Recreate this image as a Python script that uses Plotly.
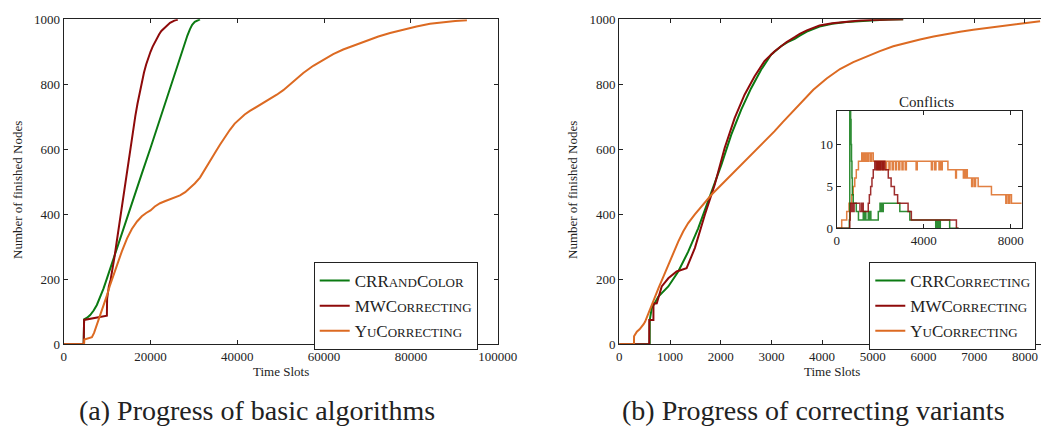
import plotly.graph_objects as go

# ---------------- data: (a) basic algorithms ----------------
a_crr_x = [0, 4600, 4700, 5400, 6100, 6900, 7640, 8400, 9190, 9950, 10730, 11500, 12270, 14000, 16000, 18000, 20000,
           22000, 24000, 26000, 27500, 28000, 28500, 29100, 29600, 30200, 30800, 31400]
a_crr_y = [0, 0, 77, 82, 90, 104, 121, 144, 172, 202, 234, 265, 296, 366, 445, 525, 604,
           687, 770, 853, 915, 933, 950, 970, 983, 992, 997, 1000]

a_mw_x = [0, 4600, 4700, 6500, 8500, 9950, 10000, 10400, 10800, 11200, 11700, 12200, 12700, 13500, 14500, 15500,
          16500, 17000, 17500, 18000, 18500, 19000, 19500, 20000, 20500, 21000, 21500, 22000, 22500, 23500, 24500,
          25500, 26300]
a_mw_y = [0, 0, 75, 79, 84, 88, 140, 178, 198, 225, 268, 314, 360, 438, 525, 616,
          702, 740, 776, 808, 836, 861, 882, 900, 916, 930, 943, 954, 964, 978, 989,
          996, 999]

a_yu_x = [0, 4700, 4750, 6500, 7000, 7600, 8400, 9200, 10000, 10700, 11500, 12300, 13400, 14600, 15700, 16900,
          18000, 19000, 20000, 21000, 22200, 23300, 24500, 25700, 26800, 28000, 29100, 30200, 31400, 32500, 33700,
          34800, 36000, 37100, 38300, 39400, 40600, 41700, 42900, 44500, 46000, 47500, 49100, 50600, 52100, 53700,
          55200, 57500, 59800, 62100, 64400, 67100, 69800, 72500, 75200, 78300, 81300, 84400, 87500, 90200, 92900]
a_yu_y = [0, 0, 15, 22, 35, 58, 88, 118, 152, 183, 214, 244, 286, 326, 355, 378,
          394, 404, 412, 424, 434, 440, 446, 451, 458, 468, 481, 495, 513, 536, 563,
          588, 614, 638, 660, 679, 694, 707, 718, 731, 742, 754, 768, 782, 799, 817,
          835, 857, 876, 893, 907, 921, 934, 947, 958, 969, 978, 986, 992, 995, 997]

# ---------------- data: (b) correcting variants ----------------
b_crr_x = [0, 600, 601, 640, 771, 967, 1163, 1359, 1556, 1752, 1882, 2013, 2209, 2405, 2601, 2797, 2993, 3190,
           3320, 3460, 3560, 3700, 3950, 4200, 4480, 4750, 5000, 5300, 5600]
b_crr_y = [0, 0, 75, 111, 147, 178, 224, 285, 357, 439, 491, 552, 645, 722, 788, 845, 891, 917,
           930, 940, 950, 962, 978, 986, 992, 995, 997, 999, 1000]

b_mw_x = [0, 590, 591, 673, 674, 739, 837, 967, 1131, 1327, 1490, 1686, 1882, 2078, 2275, 2471, 2667, 2863, 3059,
          3190, 3300, 3460, 3560, 3700, 3950, 4200, 4480, 4750, 5000, 5300, 5600]
b_mw_y = [0, 0, 75, 75, 125, 126, 178, 203, 224, 234, 296, 398, 491, 604, 696, 768, 824, 871, 901,
          918, 930, 945, 955, 966, 981, 988, 993, 996, 998, 999, 1000]

b_yu_x = [0, 290, 291, 346, 400, 444, 480, 510, 560, 608, 690, 771, 870, 967, 1065, 1163, 1260, 1359, 1490, 1621,
          1720, 1817, 1950, 2078, 2240, 2405, 2570, 2732, 2900, 3059, 3220, 3373, 3600, 3827, 4090, 4353, 4616,
          4880, 5140, 5404, 5670, 5931, 6200, 6458, 6720, 6982, 7250, 7509, 7770, 8036, 8300]
b_yu_y = [0, 0, 25, 39, 46, 54, 62, 70, 90, 111, 142, 172, 208, 244, 281, 316, 347, 373, 400, 424,
          443, 460, 481, 501, 527, 552, 578, 604, 630, 655, 683, 708, 748, 783, 818, 847, 868,
          886, 902, 917, 928, 938, 947, 955, 962, 968, 973, 978, 984, 989, 994]

# ---------------- data: inset "Conflicts" (step values) ----------------
c_crr_x = [0, 580, 600, 640, 660, 680, 700, 720, 760, 900, 1000, 1220, 1260, 1300, 1340, 1450, 1490, 1530, 1570,
           1910, 1990, 2020, 2060, 2100, 2140, 2900, 3360, 4550, 4590, 4630, 4670, 4710, 4760, 5190, 5600]
c_crr_y = [0, 1, 20, 13, 10, 8, 6, 4, 3, 2, 1, 2, 1, 2, 1, 2, 1, 2, 1,
           2, 3, 2, 3, 2, 3, 2, 1, 0, 1, 0, 1, 0, 1, 0, 0]

c_mw_x = [0, 600, 620, 640, 680, 720, 760, 800, 1070, 1150, 1220, 1450, 1500, 1560, 1620, 1680, 1750, 1800, 1850,
          1900, 1950, 2000, 2050, 2100, 2150, 2210, 2370, 2500, 2650, 2800, 3280, 3430, 5500, 5600]
c_mw_y = [0, 1, 2, 3, 2, 3, 2, 3, 2, 3, 2, 3, 4, 5, 6, 7, 8, 7, 8,
          7, 8, 7, 8, 7, 8, 7, 6, 5, 4, 3, 2, 1, 0, 0]

c_yu_x = [0, 230, 460, 565, 690, 760, 830, 900, 1000, 1150, 1200, 1250, 1300, 1350, 1420, 1470, 1550, 1600, 1680,
          1850, 1900, 1950, 2000, 2100, 2150, 2250, 2290, 2400, 2450, 2550, 2600, 2700, 2750, 2850, 2900, 3000,
          3050, 3150, 3200, 3650, 3700, 4350, 4400, 4500, 4560, 4700, 4760, 4800, 4850, 5110, 5465, 5500, 5820,
          5860, 5900, 5950, 6000, 6050, 6200, 6250, 6330, 6380, 6500, 7110, 7770, 7820, 7900, 7950, 8030, 8500]
c_yu_y = [0, 1, 2, 3, 4, 5, 6, 7, 8, 9, 8, 9, 8, 9, 8, 9, 8, 9, 8,
          7, 8, 7, 8, 7, 8, 7, 8, 7, 8, 7, 8, 7, 8, 7, 8, 7,
          8, 7, 8, 7, 8, 7, 8, 7, 8, 7, 8, 7, 8, 7, 6, 7, 6,
          7, 6, 7, 6, 6, 5, 6, 5, 6, 5, 4, 3, 4, 3, 4, 3, 3]

SC = "<span style='font-size:13px'>{}</span>"
a_names = ["CRR" + SC.format("AND") + "C" + SC.format("OLOR"),
           "MWC" + SC.format("ORRECTING"),
           "Y" + SC.format("U") + "C" + SC.format("ORRECTING")]
b_names = ["CRRC" + SC.format("ORRECTING"),
           "MWC" + SC.format("ORRECTING"),
           "Y" + SC.format("U") + "C" + SC.format("ORRECTING")]

GREEN = "#0b7a12"
RED = "#8e0a0a"
ORANGE = "#dc6a22"
colors = [GREEN, RED, ORANGE]
FONT = "Liberation Serif"
W, H = 1041, 428

fig = go.Figure()

for xs, ys, nm, c in zip([a_crr_x, a_mw_x, a_yu_x], [a_crr_y, a_mw_y, a_yu_y], a_names, colors):
    fig.add_trace(go.Scatter(x=xs, y=ys, mode="lines", name=nm, line=dict(color=c, width=2),
                             xaxis="x", yaxis="y", legend="legend"))
for xs, ys, nm, c in zip([b_crr_x, b_mw_x, b_yu_x], [b_crr_y, b_mw_y, b_yu_y], b_names, colors):
    fig.add_trace(go.Scatter(x=xs, y=ys, mode="lines", name=nm, line=dict(color=c, width=2),
                             xaxis="x2", yaxis="y2", legend="legend2"))
for xs, ys, c in zip([c_yu_x, c_crr_x, c_mw_x], [c_yu_y, c_crr_y, c_mw_y], [ORANGE, GREEN, RED]):
    fig.add_trace(go.Scatter(x=xs, y=ys, mode="lines", line=dict(color=c, width=1.5, shape="hv"),
                             opacity=0.85, showlegend=False, xaxis="x3", yaxis="y3"))

ydom = [(H - 344.3) / H, (H - 19.3) / H]
axcommon = dict(showgrid=False, zeroline=False, showline=True, linecolor="#222", linewidth=1.2,
                ticks="inside", ticklen=4, tickcolor="#222", tickformat="d",
                tickfont=dict(family=FONT, size=13, color="#222"))
insetfont = dict(family=FONT, size=13, color="#222")

fig.update_layout(
    width=W, height=H,
    margin=dict(l=0, r=0, t=0, b=0, autoexpand=False),
    paper_bgcolor="white", plot_bgcolor="white",
    font=dict(family=FONT, color="#222"),
    xaxis=dict(domain=[63.7 / W, 497.7 / W], range=[0, 100000], tickvals=[0, 20000, 40000, 60000, 80000, 100000],
               mirror="ticks", anchor="y", **axcommon),
    yaxis=dict(domain=ydom, range=[0, 1000], tickvals=[0, 200, 400, 600, 800, 1000],
               mirror="ticks", anchor="x", **axcommon),
    xaxis2=dict(domain=[619.3 / W, 1.0], range=[0, 8318], tickvals=list(range(0, 9000, 1000)),
                mirror="ticks", anchor="y2", **axcommon),
    yaxis2=dict(domain=ydom, range=[0, 1000], tickvals=[0, 200, 400, 600, 800, 1000],
                mirror=False, anchor="x2", **axcommon),
    xaxis3=dict(domain=[836.7 / W, 1021.7 / W], range=[0, 8500], tickvals=[0, 4000, 8000],
                mirror="ticks", anchor="y3", **{**axcommon, "tickfont": insetfont}),
    yaxis3=dict(domain=[(H - 228.3) / H, (H - 111) / H], range=[0, 14], tickvals=[0, 5, 10],
                mirror="ticks", anchor="x3", **{**axcommon, "tickfont": insetfont}),
    legend=dict(x=313.7 / W, y=(H - 262) / H, xanchor="left", yanchor="top",
                bordercolor="#222", borderwidth=1, bgcolor="white",
                font=dict(family=FONT, size=17, color="#222"), tracegroupgap=0),
    legend2=dict(x=869.3 / W, y=(H - 262) / H, xanchor="left", yanchor="top",
                 bordercolor="#222", borderwidth=1, bgcolor="white",
                 font=dict(family=FONT, size=17, color="#222"), tracegroupgap=0),
    showlegend=True,
)

ann = [
    dict(text="Time Slots", x=280.7 / W, y=(H - 371) / H, font=dict(size=13)),
    dict(text="Time Slots", x=831.7 / W, y=(H - 371.5) / H, font=dict(size=13)),
    dict(text="Number of finished Nodes", x=17 / W, y=(H - 190) / H, textangle=-90, font=dict(size=13)),
    dict(text="Number of finished Nodes", x=572 / W, y=(H - 190) / H, textangle=-90, font=dict(size=13)),
    dict(text="Conflicts", x=926.7 / W, y=(H - 101.7) / H, font=dict(size=15)),
    dict(text="(a) Progress of basic algorithms", x=257 / W, y=(H - 410) / H, font=dict(size=28)),
    dict(text="(b) Progress of correcting variants", x=813 / W, y=(H - 410) / H, font=dict(size=28)),
]
for a in ann:
    a.update(xref="paper", yref="paper", xanchor="center", yanchor="middle", showarrow=False)
    a["font"].update(family=FONT, color="#222")
fig.update_layout(annotations=ann)

fig.write_html("out.html")
